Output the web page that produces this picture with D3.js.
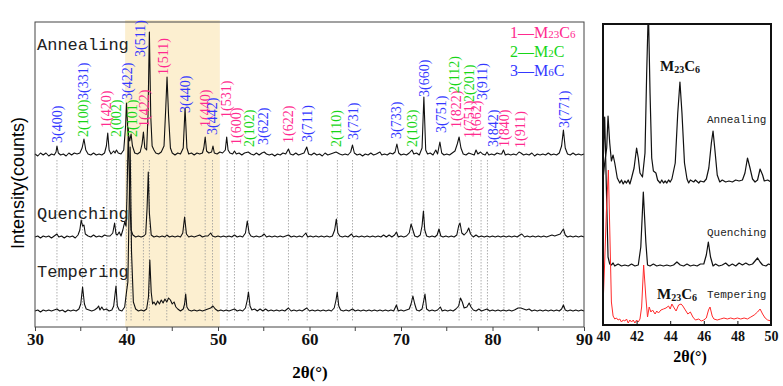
<!DOCTYPE html>
<html><head><meta charset="utf-8">
<script src="https://cdn.jsdelivr.net/npm/d3@7"></script>
<style>body{margin:0;background:#fff}</style>
</head><body>
<svg id="c" width="783" height="386"></svg>
<script>
// ---------- DATA ----------
const mainTicks = [30, 40, 50, 60, 70, 80, 90];
const mainMinorTicks = [35, 45, 55, 65, 75, 85];
const zoomTicks = [40, 42, 44, 46, 48, 50];
const sampleNames = ["Annealing", "Quenching", "Tempering"];
const mainOffsets = [171, 89, 15];     // stacking offset of each pattern (a.u.)
const zoomOffsets = [142, 58, 3];
const highlightRange = [39.85, 50.2];
const legendItems = [["1", "M", "23", "C", "6"], ["2", "M", "2", "C", ""], ["3", "M", "6", "C", ""]];

// main patterns: flat [2θ, intensity above own baseline]
const annealing = [30.0,2,30.3,0,30.6,3,30.9,1,31.2,3,31.5,0,31.8,2,32.1,1,32.3,4,32.4,10,32.55,3,32.8,1,33.1,2,33.4,0,33.7,3,34.0,1,34.3,3,34.6,2,34.9,3,35.15,8,35.35,17,35.55,6,35.8,2,36.1,1,36.4,3,36.7,1,37.0,2,37.3,1,37.6,3,37.8,10,37.95,23,38.1,6,38.3,2,38.6,5,38.75,3,38.9,6,39.1,3,39.4,2,39.7,6,39.9,30,40.0,53,40.15,25,40.35,15,40.5,22,40.65,10,40.9,3,41.2,2,41.5,4,41.7,12,41.85,24,42.0,8,42.2,6,42.35,40,42.5,124,42.65,40,42.8,10,43.0,6,43.2,3,43.5,2,43.8,4,44.1,10,44.3,50,44.43,79,44.6,40,44.8,8,45.0,3,45.3,1,45.6,3,45.9,2,46.2,8,46.4,48,46.6,8,46.8,2,47.1,3,47.4,1,47.7,3,48.0,2,48.3,3,48.45,8,48.6,19,48.75,5,49.0,3,49.3,4,49.45,10,49.6,3,49.9,2,50.2,4,50.5,3,50.8,6,50.95,19,51.1,6,51.3,3,51.6,2,51.8,5,52.0,2,52.3,3,52.6,1,52.9,3,53.3,4,53.6,2,53.9,1,54.2,3,54.5,1,54.8,3,55.05,4,55.3,2,55.6,1,55.9,2,56.2,0,56.5,2,56.8,1,57.1,3,57.4,2,57.7,7,57.9,2,58.2,1,58.5,3,58.8,1,59.1,2,59.4,3,59.7,9,59.9,2,60.2,1,60.5,3,60.8,1,61.1,2,61.4,0,61.7,3,62.0,1,62.3,2,62.6,3,62.9,4,63.1,3,63.3,2,63.6,1,63.9,2,64.2,1,64.5,4,64.7,11,64.9,3,65.2,1,65.5,2,65.8,0,66.1,2,66.4,1,66.7,3,67.0,1,67.3,2,67.7,4,67.9,1,68.2,2,68.5,1,68.8,3,69.1,2,69.35,4,69.55,12,69.75,3,70.0,1,70.3,2,70.6,1,70.9,3,71.2,6,71.4,2,71.7,3,72.0,1,72.3,8,72.5,59,72.7,6,72.9,2,73.2,3,73.5,1,73.8,6,74.0,2,74.25,14,74.45,3,74.7,1,75.0,2,75.3,1,75.6,3,75.9,5,76.15,12,76.35,19,76.55,8,76.8,2,77.1,1,77.4,3,77.7,2,78.0,1,78.2,6,78.4,2,78.7,4,78.9,2,79.2,1,79.4,4,79.6,1,79.9,2,80.2,1,80.5,3,80.8,2,81.0,2,81.2,6,81.4,1,81.7,2,82.0,1,82.3,2,82.6,1,82.9,4,83.1,3,83.4,1,83.7,2,84.0,1,84.3,3,84.6,0,84.9,2,85.2,1,85.5,2,85.8,1,86.1,3,86.4,1,86.7,2,87.0,1,87.3,3,87.55,10,87.75,26,87.95,8,88.2,2,88.5,1,88.8,3,89.1,1,89.4,2,89.7,1,90.0,2];
const quenching = [30.0,1,30.3,2,30.6,0,30.9,2,31.2,1,31.5,2,31.8,0,32.1,2,32.4,4,32.6,1,32.9,2,33.2,0,33.5,2,33.8,1,34.1,2,34.4,0,34.7,3,34.9,8,35.05,18,35.2,12,35.35,13,35.5,4,35.8,2,36.1,1,36.4,3,36.7,1,37.0,2,37.3,1,37.6,3,37.9,2,38.2,2,38.5,5,38.7,15,38.85,4,39.0,3,39.2,6,39.4,2,39.6,8,39.8,16,39.95,12,40.05,40,40.2,110,40.35,40,40.5,8,40.7,3,41.0,1,41.3,2,41.6,1,41.9,2,42.1,4,42.25,30,42.38,66,42.5,25,42.7,3,43.0,1,43.3,2,43.6,1,43.9,2,44.2,1,44.4,3,44.7,1,45.0,2,45.3,1,45.6,2,45.9,1,46.15,5,46.35,21,46.55,4,46.8,1,47.1,2,47.4,1,47.7,2,48.0,3,48.3,1,48.6,2,48.9,2,49.2,5,49.4,2,49.7,1,50.0,2,50.3,1,50.6,2,50.9,1,51.2,2,51.5,1,51.8,3,52.1,1,52.4,2,52.7,1,53.0,5,53.2,17,53.4,5,53.6,2,53.9,1,54.2,2,54.5,1,54.8,2,55.05,4,55.3,1,55.6,2,55.9,1,56.2,2,56.5,1,56.8,2,57.1,1,57.4,2,57.7,3,58.0,1,58.3,2,58.6,1,58.9,2,59.2,1,59.6,5,59.8,1,60.1,2,60.4,1,60.7,2,61.0,1,61.3,2,61.6,1,61.9,2,62.2,1,62.5,2,62.75,8,62.93,19,63.1,5,63.3,2,63.6,1,63.9,2,64.2,1,64.6,4,64.8,1,65.1,2,65.4,1,65.7,2,66.0,1,66.3,2,66.6,1,66.9,2,67.2,1,67.5,2,67.8,1,68.1,3,68.4,1,68.7,3,69.0,1,69.3,3,69.5,6,69.7,1,70.0,2,70.3,1,70.6,2,70.9,5,71.1,14,71.3,8,71.5,2,71.8,1,72.1,3,72.3,12,72.45,27,72.6,8,72.8,2,73.1,1,73.4,2,73.7,1,73.95,3,74.15,9,74.35,2,74.6,1,74.9,2,75.2,1,75.5,2,75.8,1,76.1,3,76.3,12,76.45,15,76.65,5,76.9,3,77.2,6,77.4,10,77.6,4,77.9,1,78.2,3,78.5,1,78.8,2,79.1,1,79.4,2,79.7,1,80.0,2,80.3,1,80.6,2,80.9,1,81.2,2,81.5,1,81.8,2,82.1,1,82.4,2,82.7,1,83.0,3,83.2,4,83.5,1,83.8,2,84.1,1,84.4,2,84.7,1,85.0,2,85.3,1,85.6,2,85.9,1,86.2,2,86.5,3,86.8,2,87.1,3,87.4,4,87.6,7,87.75,9,87.95,3,88.2,1,88.5,2,88.8,1,89.1,2,89.4,1,89.7,2,90.0,1];
const tempering = [30.0,1,30.3,2,30.6,0,30.9,2,31.2,1,31.5,2,31.8,1,32.1,2,32.4,3,32.7,1,33.0,2,33.3,0,33.6,2,33.9,1,34.2,2,34.5,1,34.8,3,35.0,8,35.2,25,35.4,8,35.6,3,35.9,2,36.2,1,36.5,2,36.8,4,36.95,6,37.1,2,37.3,5,37.5,2,37.8,3,38.1,1,38.4,2,38.6,6,38.85,26,39.0,6,39.2,2,39.5,1,39.8,5,40.0,20,40.15,30,40.4,165,40.55,60,40.75,10,41.0,3,41.3,1,41.6,2,41.9,1,42.2,3,42.4,15,42.55,52,42.7,20,42.85,8,43.0,10,43.2,7,43.4,11,43.6,8,43.8,12,44.0,9,44.2,13,44.4,10,44.6,14,44.8,12,45.0,8,45.2,10,45.4,5,45.6,3,45.9,1,46.2,3,46.35,8,46.47,18,46.6,5,46.8,2,47.1,1,47.4,2,47.7,1,48.0,2,48.3,1,48.6,2,48.9,3,49.2,4,49.45,6,49.7,3,50.0,1,50.3,2,50.6,1,50.9,2,51.2,1,51.5,2,51.8,3,52.1,1,52.4,2,52.7,1,53.0,4,53.2,12,53.33,20,53.5,6,53.7,2,54.0,3,54.3,1,54.6,3,54.9,1,55.2,3,55.5,1,55.8,2,56.1,1,56.4,2,56.7,1,57.0,2,57.3,1,57.7,4,58.0,1,58.3,2,58.6,1,58.9,2,59.2,1,59.7,4,60.0,1,60.3,2,60.6,1,60.9,2,61.2,1,61.5,2,61.8,1,62.1,2,62.4,1,62.7,4,62.9,12,63.03,20,63.2,6,63.4,2,63.7,1,64.0,2,64.3,1,64.7,3,65.0,1,65.3,2,65.6,1,65.9,2,66.2,1,66.5,2,66.8,1,67.1,2,67.4,1,67.7,2,68.0,1,68.3,2,68.6,1,68.9,2,69.2,1,69.5,7,69.7,1,70.0,2,70.3,1,70.6,2,70.9,3,71.1,8,71.3,16,71.5,8,71.7,2,72.0,1,72.3,3,72.5,12,72.62,18,72.8,3,73.1,1,73.4,2,73.7,1,74.0,2,74.3,5,74.5,1,74.8,2,75.1,1,75.4,2,75.7,1,76.0,3,76.3,6,76.5,14,76.7,10,76.9,4,77.2,5,77.45,9,77.65,5,77.9,2,78.2,1,78.5,3,78.8,1,79.1,2,79.4,3,79.7,1,80.0,2,80.3,1,80.6,2,80.9,1,81.2,2,81.5,1,81.8,2,82.1,1,82.4,2,82.8,4,83.1,4,83.4,3,83.7,2,84.0,3,84.3,1,84.6,2,84.9,1,85.2,2,85.5,1,85.8,2,86.1,1,86.4,2,86.7,1,87.0,2,87.3,1,87.55,3,87.75,7,87.95,2,88.2,1,88.5,2,88.8,1,89.1,2,89.4,1,89.7,2,90.0,1];

// zoomed 40–50° patterns
const annealingZoom = [40.0,3,40.1,20,40.22,35,40.3,67,40.4,40,40.5,22,40.6,28,40.7,20,40.85,5,41.0,0,41.1,3,41.2,-1,41.3,2,41.4,0,41.5,3,41.6,-1,41.7,5,41.85,15,42.0,35,42.1,25,42.2,10,42.35,6,42.5,30,42.6,110,42.7,175,42.8,90,42.9,25,43.0,12,43.15,10,43.25,3,43.4,0,43.5,3,43.6,0,43.7,2,43.8,0,43.9,3,44.0,1,44.1,4,44.3,20,44.45,70,44.58,101,44.7,70,44.85,20,45.0,4,45.1,0,45.2,3,45.4,1,45.5,3,45.7,0,45.8,2,46.0,1,46.15,4,46.3,15,46.45,40,46.55,52,46.65,35,46.8,8,46.95,1,47.1,3,47.3,1,47.5,2,47.7,1,47.9,3,48.1,2,48.3,3,48.45,10,48.6,25,48.75,15,48.9,4,49.05,1,49.2,3,49.35,14,49.5,8,49.6,2,49.8,3,50.0,1];
const quenchingZoom = [40.0,100,40.1,150,40.2,80,40.3,10,40.4,3,40.5,2,40.6,4,40.7,1,40.9,3,41.1,1,41.3,2,41.5,1,41.7,3,41.9,1,42.1,2,42.25,20,42.4,75,42.55,25,42.65,2,42.8,1,43.0,3,43.2,1,43.4,2,43.6,1,43.8,2,44.0,1,44.2,2,44.4,5,44.6,2,44.8,1,45.0,3,45.2,1,45.4,2,45.6,1,45.8,3,46.0,3,46.15,12,46.27,25,46.4,10,46.55,1,46.7,3,46.9,1,47.1,2,47.3,4,47.5,1,47.7,3,47.9,1,48.1,4,48.3,2,48.5,4,48.7,2,48.9,3,49.05,6,49.2,9,49.35,5,49.5,2,49.7,1,49.85,3,50.0,2];
const temperingZoom = [40.0,15,40.1,60,40.2,110,40.32,152,40.42,80,40.5,20,40.6,6,40.7,3,40.8,4,40.9,2,41.0,3,41.1,0,41.2,2,41.3,1,41.4,3,41.5,-1,41.6,2,41.7,0,41.8,2,41.9,-1,42.0,2,42.1,0,42.2,3,42.3,15,42.42,57,42.55,25,42.65,5,42.75,15,42.85,10,42.95,12,43.1,8,43.2,11,43.3,9,43.45,12,43.6,13,43.75,14,43.9,16,44.0,13,44.1,18,44.2,15,44.35,11,44.5,17,44.65,18,44.75,16,44.9,12,45.05,8,45.2,10,45.35,5,45.5,2,45.7,3,45.85,1,46.0,2,46.15,4,46.28,12,46.37,15,46.5,6,46.6,3,46.8,2,47.0,3,47.2,4,47.4,3,47.6,4,47.8,3,48.0,4,48.2,3,48.4,4,48.6,3,48.8,5,49.0,7,49.2,10,49.35,13,49.5,8,49.65,4,49.8,2,50.0,1];

// peak index labels: [text, phase (1=M23C6, 2=M2C, 3=M6C), 2θ, label foot level (a.u.)]
const peakLabels = [
 ["3(400)",3,32.4,184],["2(100)",2,35.3,190],["3(331)",3,35.3,227],["1(420)",1,37.75,199],
 ["2(002)",2,38.9,190],["3(422)",3,40.05,227],["2(101)",2,40.6,190],["1(422)",1,41.95,200],
 ["3(511)",3,41.5,270],["1(511)",1,44.0,252],["3(440)",3,46.4,214],["1(440)",1,48.55,200],
 ["3(442)",3,49.4,192],["1(531)",1,50.9,209],["1(600)",1,51.95,182],["2(102)",2,53.4,180],
 ["3(622)",3,54.95,182],["1(622)",1,57.7,184],["3(711)",3,59.75,185],["2(110)",2,62.95,180],
 ["3(731)",3,64.8,187],["3(733)",3,69.5,188],["2(103)",2,71.2,180],["3(660)",3,72.55,230],
 ["3(751)",3,74.35,194],["1(822)",1,76.05,199],["2(112)",2,75.8,234],["1(751)",1,77.45,189],
 ["2(201)",2,77.45,225],["1(662)",1,78.25,189],["3(911)",3,78.9,227],["3(842)",3,80.05,180],
 ["1(840)",1,81.3,180],["1(911)",1,83.05,179],["3(771)",3,87.8,199]
];
// reference (dotted) line positions, 2θ
const refLines = [32.4,35.2,37.85,38.9,40.0,40.5,41.85,42.5,44.4,46.4,48.6,49.4,51.0,51.8,53.3,55.0,57.7,59.75,63.05,64.7,69.55,71.2,72.5,74.2,76.35,77.7,78.75,79.45,81.25,83.0,87.75];

// ---------- DRAW ----------
const pairs = a => { const r = []; for (let i = 0; i < a.length; i += 2) r.push([a[i], a[i+1]]); return r; };
const phaseColor = {1: "#ff2a8f", 2: "#17d617", 3: "#3438ff"};
const svg = d3.select("#c");

const x = d3.scaleLinear().domain([30, 90]).range([35, 584]);
const y = d3.scaleLinear().domain([0, 305]).range([327, 22]);

// highlight band
svg.append("rect").attr("x", x(highlightRange[0])).attr("y", 20)
  .attr("width", x(highlightRange[1]) - x(highlightRange[0])).attr("height", 327 - 20)
  .attr("fill", "#fcefd0");

// reference lines
svg.append("g").selectAll("line").data(refLines).join("line")
  .attr("x1", d => x(d)).attr("x2", d => x(d))
  .attr("y1", y(mainOffsets[0]) + 4).attr("y2", 322)
  .attr("stroke", "#9a9a9a").attr("stroke-width", 0.8).attr("stroke-dasharray", "1.5,1.5");

// patterns
const mainSeries = [annealing, quenching, tempering];
mainSeries.forEach((s, i) => {
  const line = d3.line().x(d => x(d[0])).y(d => y(d[1] + mainOffsets[i]));
  svg.append("path").attr("d", line(pairs(s))).attr("fill", "none")
    .attr("stroke", "#111").attr("stroke-width", 1.1).attr("stroke-linejoin", "round");
});

// frame
svg.append("rect").attr("x", 35).attr("y", 22).attr("width", 549).attr("height", 305)
  .attr("fill", "none").attr("stroke", "#444").attr("stroke-width", 1);

// x axis
const ax = svg.append("g").attr("transform", "translate(0,327)")
  .call(d3.axisBottom(x).tickValues(mainTicks).tickSize(4).tickPadding(2).tickFormat(d3.format("d")));
ax.select(".domain").remove();
ax.selectAll("text").attr("font-family", "Liberation Serif").attr("font-weight", "bold").attr("font-size", 17).attr("fill", "#111");
ax.selectAll("line").attr("stroke", "#444");
svg.append("g").selectAll("line").data(mainMinorTicks).join("line")
  .attr("x1", d => x(d)).attr("x2", d => x(d)).attr("y1", 327).attr("y2", 331).attr("stroke", "#444");

// axis titles
svg.append("text").attr("x", 310).attr("y", 378).attr("text-anchor", "middle")
  .attr("font-family", "Liberation Serif").attr("font-weight", "bold").attr("font-size", 17).text("2θ(°)");
svg.append("text").attr("transform", "translate(18,183) rotate(-90)").attr("text-anchor", "middle")
  .attr("dy", "0.35em").attr("font-family", "Liberation Sans").attr("font-size", 18).text("Intensity(counts)");

// sample names
const nameY = [50, 219, 277];
sampleNames.forEach((n, i) => svg.append("text").attr("x", 37).attr("y", nameY[i])
  .attr("font-family", "Liberation Mono").attr("font-size", 17).attr("fill", "#222").text(n));

// peak labels
svg.append("g").selectAll("text").data(peakLabels).join("text")
  .attr("transform", d => `translate(${x(d[2])},${y(d[3])}) rotate(-90)`)
  .attr("dy", "0.35em").attr("font-family", "Liberation Serif").attr("font-size", 14)
  .attr("fill", d => phaseColor[d[1]]).text(d => d[0]);

// legend
legendItems.forEach((it, i) => {
  const t = svg.append("text").attr("x", 510).attr("y", 38 + i * 19)
    .attr("font-family", "Liberation Serif").attr("font-size", 16).attr("fill", phaseColor[i + 1]);
  t.append("tspan").text(it[0] + "—" + it[1]);
  t.append("tspan").attr("font-size", 11).text(it[2]);
  t.append("tspan").text(it[3]);
  if (it[4]) t.append("tspan").attr("font-size", 11).text(it[4]);
});

// ---------- ZOOM PANEL ----------
const xz = d3.scaleLinear().domain([40, 50]).range([603, 771]);
const yz = d3.scaleLinear().domain([0, 301]).range([325, 24]);
svg.append("clipPath").attr("id", "zc").append("rect").attr("x", 603).attr("y", 24).attr("width", 168).attr("height", 301);
const zoomSeries = [annealingZoom, quenchingZoom, temperingZoom];
const zoomColors = ["#111", "#111", "#ff2a2a"];
zoomSeries.forEach((s, i) => {
  const line = d3.line().x(d => xz(d[0])).y(d => yz(d[1] + zoomOffsets[i]));
  svg.append("path").attr("clip-path", "url(#zc)").attr("d", line(pairs(s))).attr("fill", "none")
    .attr("stroke", zoomColors[i]).attr("stroke-width", i === 2 ? 1 : 1.2).attr("stroke-linejoin", "round");
});
svg.append("rect").attr("x", 603).attr("y", 24).attr("width", 168).attr("height", 301)
  .attr("fill", "none").attr("stroke", "#111").attr("stroke-width", 2);
const az = svg.append("g").attr("transform", "translate(0,325)")
  .call(d3.axisBottom(xz).tickValues(zoomTicks).tickSize(-4).tickPadding(6).tickFormat(d3.format("d")));
az.select(".domain").remove();
az.selectAll("text").attr("font-family", "Liberation Serif").attr("font-weight", "bold").attr("font-size", 14).attr("fill", "#111");
az.selectAll("line").attr("stroke", "#111");
svg.append("text").attr("x", 690).attr("y", 362).attr("text-anchor", "middle")
  .attr("font-family", "Liberation Serif").attr("font-weight", "bold").attr("font-size", 16).text("2θ(°)");

const zoomNameY = [123, 236, 298];
sampleNames.forEach((n, i) => svg.append("text").attr("x", 707).attr("y", zoomNameY[i])
  .attr("font-family", "Liberation Mono").attr("font-size", 11).attr("fill", "#222").text(n));

function carbide(xp, yp) {
  const t = svg.append("text").attr("x", xp).attr("y", yp).attr("font-family", "Liberation Serif")
    .attr("font-weight", "bold").attr("font-size", 15).attr("fill", "#111");
  t.append("tspan").text("M");
  t.append("tspan").attr("font-size", 10).attr("dy", 2).text("23");
  t.append("tspan").attr("dy", -2).text("C");
  t.append("tspan").attr("font-size", 10).attr("dy", 2).text("6");
}
carbide(660, 71);
carbide(657, 299);
</script>
</body></html>
